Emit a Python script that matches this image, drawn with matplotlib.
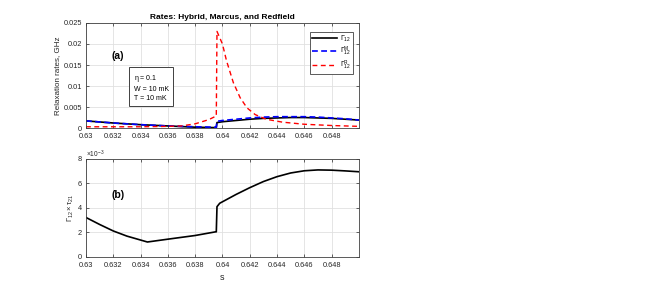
import matplotlib
matplotlib.use("Agg")
import matplotlib.pyplot as plt

plt.rcParams["font.family"] = ["Liberation Sans", "DejaVu Sans"]
plt.rcParams["mathtext.fontset"] = "custom"
plt.rcParams["mathtext.rm"] = "Liberation Sans"
plt.rcParams["mathtext.it"] = "Liberation Sans"

# top panel: relaxation rates (GHz)
s_hyb = [0.630, 0.632, 0.634, 0.636, 0.638, 0.6395, 0.63955, 0.6396, 0.640, 0.641, 0.642,
         0.643, 0.644, 0.645, 0.646, 0.647, 0.648, 0.649, 0.650]
rate_hybrid = [0.0017, 0.0012, 0.0008, 0.0005, 0.0002, 0.0001, 0.0001, 0.0013, 0.0015, 0.0018,
               0.0021, 0.0023, 0.0024, 0.0025, 0.0025, 0.0024, 0.0023, 0.0021, 0.0019]
rate_marcus = [0.0017, 0.0012, 0.0008, 0.0005, 0.0003, 0.0002, 0.0002, 0.0016, 0.0018, 0.0021,
               0.0024, 0.0026, 0.0027, 0.0027, 0.0027, 0.0026, 0.0024, 0.0022, 0.0019]

s_red = [0.630, 0.632, 0.634, 0.636, 0.637, 0.638, 0.639, 0.6395, 0.63955, 0.6396, 0.6400,
         0.6403, 0.6408, 0.6413, 0.6418, 0.6424, 0.6432, 0.6444, 0.646, 0.648, 0.650]
rate_redfield = [0.0003, 0.0003, 0.0003, 0.0004, 0.0005, 0.0010, 0.0020, 0.0028, 0.0028, 0.0230,
                 0.0200, 0.0160, 0.0108, 0.0072, 0.0048, 0.0032, 0.0021, 0.0014, 0.0009, 0.0006,
                 0.0004]

# bottom panel: Gamma_12 * tau_21 (x 1e-3)
s_prod = [0.630, 0.631, 0.632, 0.633, 0.634, 0.6345, 0.636, 0.638, 0.6395, 0.63955, 0.6396,
          0.6398, 0.640, 0.641, 0.642, 0.643, 0.644, 0.645, 0.646, 0.647, 0.648, 0.649, 0.650]
gamma_tau = [3.22, 2.65, 2.12, 1.70, 1.38, 1.22, 1.45, 1.75, 2.05, 2.05, 4.10,
             4.38, 4.50, 5.10, 5.65, 6.15, 6.55, 6.85, 7.03, 7.10, 7.08, 7.02, 6.95]

x_ticks = [0.630, 0.632, 0.634, 0.636, 0.638, 0.640, 0.642, 0.644, 0.646, 0.648]
x_labels = ["0.63", "0.632", "0.634", "0.636", "0.638", "0.64", "0.642", "0.644", "0.646", "0.648"]


def style_axes(ax):
    ax.set_xlim(0.630, 0.650)
    ax.set_xticks(x_ticks, x_labels)
    ax.grid(True, color="0.88", linewidth=0.6)
    ax.set_axisbelow(True)
    ax.tick_params(direction="in", top=True, right=True, labelsize=5.3, length=2.5,
                   width=0.5, colors="0.15")
    ax.tick_params(axis="x", pad=3.5)
    ax.tick_params(axis="y", pad=3)
    for sp in ax.spines.values():
        sp.set_color("0.25")
        sp.set_linewidth(0.6)


fig = plt.figure(figsize=(6.64, 2.91), dpi=100)
ax1 = fig.add_axes([0.1295, 0.560, 0.411, 0.361])
ax2 = fig.add_axes([0.1295, 0.117, 0.411, 0.337])

ax1.plot(s_hyb, rate_hybrid, color="black", lw=1.2, label=r"$\Gamma_{12}$")
ax1.plot(s_hyb, rate_marcus, color="blue", lw=1.2, ls=(0, (3.5, 2)), label=r"$\Gamma^{M}_{12}$")
ax1.plot(s_red, rate_redfield, color="red", lw=1.0, ls=(0, (3.5, 2.5)), label=r"$\Gamma^{R}_{12}$")
style_axes(ax1)
ax1.set_ylim(0, 0.025)
ax1.set_yticks([0, 0.005, 0.01, 0.015, 0.02, 0.025], ["0", "0.005", "0.01", "0.015", "0.02", "0.025"])
ax1.set_ylabel("Relaxation rates, GHz", fontsize=5.8, color="0.15", labelpad=2)
ax1.set_title("Rates: Hybrid, Marcus, and Redfield", fontsize=6, fontweight="bold", pad=3)
ax1.text(0.095, 0.66, "(a)", transform=ax1.transAxes, fontsize=7.5, fontweight="bold")
ax1.text(0.175, 0.52, "$\\eta$ = 0.1\nW = 10 mK\nT = 10 mK", transform=ax1.transAxes,
         fontsize=5, va="top", linespacing=1.35,
         bbox=dict(boxstyle="square,pad=0.65", fc="white", ec="0.25", lw=0.7))
leg = ax1.legend(loc="upper right", fontsize=5, handlelength=3.6, handletextpad=0.4,
                 borderpad=0.3, labelspacing=0.1, fancybox=False, framealpha=1,
                 bbox_to_anchor=(0.992, 0.95))
leg.get_frame().set_edgecolor("0.25")
leg.get_frame().set_linewidth(0.6)

ax2.plot(s_prod, gamma_tau, color="black", lw=1.2)
style_axes(ax2)
ax2.set_ylim(0, 8)
ax2.set_yticks([0, 2, 4, 6, 8])
ax2.set_ylabel(r"$\Gamma_{12}\times\tau_{21}$", fontsize=5.5, color="0.15", labelpad=1)
ax2.set_xlabel("s", fontsize=6.5, color="0.15", labelpad=3)
ax2.text(0.0, 1.015, r"$\times10^{-3}$", transform=ax2.transAxes, fontsize=4.8, color="0.15")
ax2.text(0.095, 0.6, "(b)", transform=ax2.transAxes, fontsize=7.5, fontweight="bold")

fig.savefig("out.png", dpi=100)
